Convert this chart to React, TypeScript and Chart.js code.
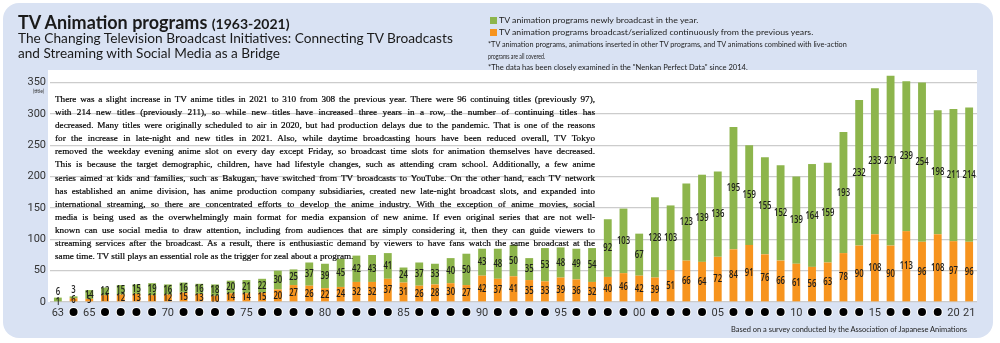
import React, { useEffect, useLayoutEffect, useRef, useState } from "react";
import { Chart, registerables } from "chart.js";
Chart.register(...registerables);

// ---- data ----
const years = [
  "1963","1964","1965","1966","1967","1968","1969","1970","1971","1972",
  "1973","1974","1975","1976","1977","1978","1979","1980","1981","1982",
  "1983","1984","1985","1986","1987","1988","1989","1990","1991","1992",
  "1993","1994","1995","1996","1997","1998","1999","2000","2001","2002",
  "2003","2004","2005","2006","2007","2008","2009","2010","2011","2012",
  "2013","2014","2015","2016","2017","2018","2019","2020","2021",
];
const newTitles = [
  6, 3, 14, 12, 15, 15, 19, 16, 16, 16, 18, 20, 21, 22,
  30, 25, 37, 39, 45, 42, 43, 41,
  24, 37, 33, 40, 50, 43, 48, 50, 35, 53, 48, 49, 54,
  92, 103, 67, 128, 103,
  123, 139, 136, 195, 159, 155, 152, 139, 164, 159, 193, 232, 233, 271, 239, 254, 198, 211, 214,
];
const continuingTitles = [
  1, 6, 5, 11, 12, 13, 11, 12, 15, 13, 10, 14, 14, 15,
  20, 27, 26, 22, 24, 32, 32, 37,
  31, 26, 28, 30, 27, 42, 37, 41, 35, 33, 39, 36, 32,
  40, 46, 42, 39, 51,
  66, 64, 72, 84, 91, 76, 66, 61, 56, 63, 78, 90, 108, 90, 113, 96, 108, 97, 96,
];
const shownYearLabels = ["63","65","70","75","80","85","90","95","00","05","10","15","20","21"];
const yTicks = [0, 50, 100, 150, 200, 250, 300, 350];

const legendNew = "TV animation programs newly broadcast in the year.";
const legendCont = "TV animation programs broadcast/serialized continuously from the previous years.";
const note1 = "*TV animation programs, animations inserted in other TV programs, and TV animations combined with live-action";
const note2 = "programs are all covered.";
const note3 = "*The data has been closely examined in the \"Nenkan Perfect Data\" since 2014.";
const sourceText = "Based on a survey conducted by the Association of Japanese Animations";

const annotationLines = [
  "There was a slight increase in TV anime titles in 2021 to 310 from 308 the previous year. There were 96 continuing titles (previously 97),",
  "with 214 new titles (previously 211), so while new titles have increased three years in a row, the number of continuing titles has",
  "decreased. Many titles were originally scheduled to air in 2020, but had production delays due to the pandemic. That is one of the reasons",
  "for the increase in late-night and new titles in 2021. Also, while daytime broadcasting hours have been reduced overall, TV Tokyo",
  "removed the weekday evening anime slot on every day except Friday, so broadcast time slots for animation themselves have decreased.",
  "This is because the target demographic, children, have had lifestyle changes, such as attending cram school. Additionally, a few anime",
  "series aimed at kids and families, such as Bakugan, have switched from TV broadcasts to YouTube. On the other hand, each TV network",
  "has established an anime division, has anime production company subsidiaries, created new late-night broadcast slots, and expanded into",
  "international streaming, so there are concentrated efforts to develop the anime industry. With the exception of anime movies, social",
  "media is being used as the overwhelmingly main format for media expansion of new anime. If even original series that are not well-",
  "known can use social media to draw attention, including from audiences that are simply considering it, then they can guide viewers to",
  "streaming services after the broadcast. As a result, there is enthusiastic demand by viewers to have fans watch the same broadcast at the",
  "same time. TV still plays an essential role as the trigger for zeal about a program.",
];

const GREEN = "#8db54c";
const ORANGE = "#f7941e";
const PANEL = "#d9e2f3";
const SANS = "Lato, 'Open Sans', sans-serif";

function FitText(props: { children: React.ReactNode; width: number; left: number; top: number; style?: React.CSSProperties }) {
  const ref = useRef<HTMLSpanElement>(null);
  const [s, setS] = useState(1);
  useLayoutEffect(() => {
    if (ref.current) {
      const w = ref.current.offsetWidth;
      if (w > 0) setS(props.width / w);
    }
  }, [props.width]);
  return (
    <span
      ref={ref}
      style={{
        position: "absolute",
        left: props.left,
        top: props.top,
        whiteSpace: "nowrap",
        display: "inline-block",
        transform: `scaleX(${s})`,
        transformOrigin: "left center",
        ...props.style,
      }}
    >
      {props.children}
    </span>
  );
}

const labelPlugin = {
  id: "barLabels",
  afterDatasetsDraw(chart: any) {
    const ctx = chart.ctx;
    ctx.save();
    ctx.font = "600 11px 'Open Sans', sans-serif";
    ctx.fillStyle = "#1c1c1c";
    ctx.textAlign = "center";
    ctx.textBaseline = "middle";
    chart.data.datasets.forEach((ds: any, di: number) => {
      const meta = chart.getDatasetMeta(di);
      meta.data.forEach((el: any, i: number) => {
        const v = ds.data[i];
        const p = el.getProps(["x", "y", "base"], true);
        let ly = (p.y + p.base) / 2;
        if (di === 1 && v < 10) ly = p.y - 6;
        ctx.save();
        ctx.translate(p.x, ly);
        ctx.scale(0.7, 1);
        ctx.fillText(String(v), 0, 0);
        ctx.restore();
      });
    });
    ctx.restore();
  },
};

const bgPlugin = {
  id: "plotBg",
  beforeDraw(chart: any) {
    const { ctx, chartArea } = chart;
    ctx.save();
    ctx.fillStyle = "#ffffff";
    ctx.fillRect(chartArea.left - 2, chartArea.top, chartArea.right - chartArea.left + 2, chartArea.bottom - chartArea.top);
    ctx.restore();
  },
};

const dotsPlugin = {
  id: "yearDots",
  afterDraw(chart: any) {
    const ctx = chart.ctx;
    const xs = chart.scales.x;
    ctx.save();
    years.forEach((yr, i) => {
      if (shownYearLabels.includes(yr.slice(2))) return;
      const x = xs.getPixelForValue(i);
      const y = 312;
      ctx.beginPath();
      ctx.arc(x, y, 5, 0, Math.PI * 2);
      ctx.fillStyle = "#ffffff";
      ctx.fill();
      ctx.beginPath();
      ctx.arc(x, y, 4, 0, Math.PI * 2);
      ctx.fillStyle = "#000000";
      ctx.fill();
    });
    ctx.restore();
  },
};

function BarChart() {
  const ref = useRef<HTMLCanvasElement>(null);
  useEffect(() => {
    if (!ref.current) return;
    const chart = new Chart(ref.current, {
      type: "bar",
      data: {
        labels: years,
        datasets: [
          { label: legendCont, data: continuingTitles, backgroundColor: ORANGE, borderWidth: 0, barPercentage: 0.5, categoryPercentage: 1 },
          { label: legendNew, data: newTitles, backgroundColor: GREEN, borderWidth: 0, barPercentage: 0.5, categoryPercentage: 1 },
        ],
      },
      options: {
        animation: false,
        responsive: false,
        maintainAspectRatio: false,
        layout: { padding: { top: 70, right: 23, left: 0, bottom: 0 } },
        plugins: { legend: { display: false }, tooltip: { enabled: false } },
        scales: {
          x: {
            stacked: true,
            grid: { display: false, drawTicks: false },
            border: { display: false },
            ticks: {
              autoSkip: false,
              maxRotation: 0,
              padding: 5,
              color: "#333333",
              font: { family: "'Liberation Sans Narrow', Roboto, sans-serif", size: 11 },
              callback: (_v: any, i: number) => {
                const s = years[i].slice(2);
                return shownYearLabels.includes(s) ? s : "";
              },
            },
            afterFit: (s: any) => { s.height = 41; },
          },
          y: {
            stacked: true,
            min: 0,
            max: 370,
            afterBuildTicks: (s: any) => { s.ticks = yTicks.map((v) => ({ value: v })); },
            ticks: {
              padding: 4,
              color: "#333333",
              font: { family: "'Liberation Sans Narrow', Roboto, sans-serif", size: 11 },
            },
            grid: { color: "#cccccc", lineWidth: 1.3, drawTicks: false },
            border: { display: false },
            afterFit: (s: any) => { s.width = 50; },
          },
        },
      },
      plugins: [bgPlugin, labelPlugin, dotsPlugin],
    });
    return () => chart.destroy();
  }, []);
  return <canvas ref={ref} width={1000} height={343} style={{ position: "absolute", left: 0, top: 0 }} />;
}

export default function App() {
  return (
    <div style={{ position: "fixed", left: 0, top: 0, width: 1000, height: 343, background: "#ffffff", overflow: "hidden", fontFamily: SANS }}>
      <div style={{ position: "absolute", left: 3, top: 3, width: 990, height: 335, background: PANEL, borderRadius: 16 }} />
      <BarChart />
      {/* title */}
      <FitText left={18} top={12} width={272} style={{ fontSize: 18, fontWeight: 700, lineHeight: "20px", color: "#1a1a1a" }}>
        <span>TV Animation programs </span>
        <span style={{ fontSize: 14 }}>(1963-2021)</span>
      </FitText>
      <FitText left={18} top={30} width={435} style={{ fontSize: 14, lineHeight: "15px", color: "#1a1a1a" }}>
        The Changing Television Broadcast Initiatives: Connecting TV Broadcasts
      </FitText>
      <FitText left={18} top={45} width={262} style={{ fontSize: 14, lineHeight: "15px", color: "#1a1a1a" }}>
        and Streaming with Social Media as a Bridge
      </FitText>
      {/* legend */}
      <div style={{ position: "absolute", left: 490, top: 17, width: 7, height: 7, background: GREEN }} />
      <FitText left={499} top={16} width={199} style={{ fontSize: 8, lineHeight: "9px", color: "#222" }}>{legendNew}</FitText>
      <div style={{ position: "absolute", left: 490, top: 29, width: 7, height: 7, background: ORANGE }} />
      <FitText left={499} top={28} width={314} style={{ fontSize: 8, lineHeight: "9px", color: "#222" }}>{legendCont}</FitText>
      <FitText left={488} top={40} width={359} style={{ fontSize: 8, lineHeight: "9px", color: "#222" }}>{note1}</FitText>
      <FitText left={488} top={52} width={57} style={{ fontSize: 8, lineHeight: "9px", color: "#222" }}>{note2}</FitText>
      <FitText left={488} top={63} width={260} style={{ fontSize: 8, lineHeight: "9px", color: "#222" }}>{note3}</FitText>
      {/* y unit */}
      <div style={{ position: "absolute", left: 33, top: 88, fontSize: 5, lineHeight: "6px", color: "#333" }}>(title)</div>
      {/* annotation */}
      <div style={{ position: "absolute", left: 55, top: 93, width: 540, fontFamily: "'Liberation Serif', 'DejaVu Serif', serif", fontSize: 9.2, lineHeight: "13.1px", color: "#000", WebkitTextStroke: "0.2px #000" }}>
        {annotationLines.map((ln, i) => (
          <div key={i} style={{ textAlign: i === annotationLines.length - 1 ? "left" : "justify", textAlignLast: i === annotationLines.length - 1 ? "left" : "justify", whiteSpace: "nowrap" }}>{ln}</div>
        ))}
      </div>
      {/* source */}
      <FitText left={731} top={324} width={236} style={{ fontSize: 8, lineHeight: "10px", color: "#222" }}>{sourceText}</FitText>
    </div>
  );
}
